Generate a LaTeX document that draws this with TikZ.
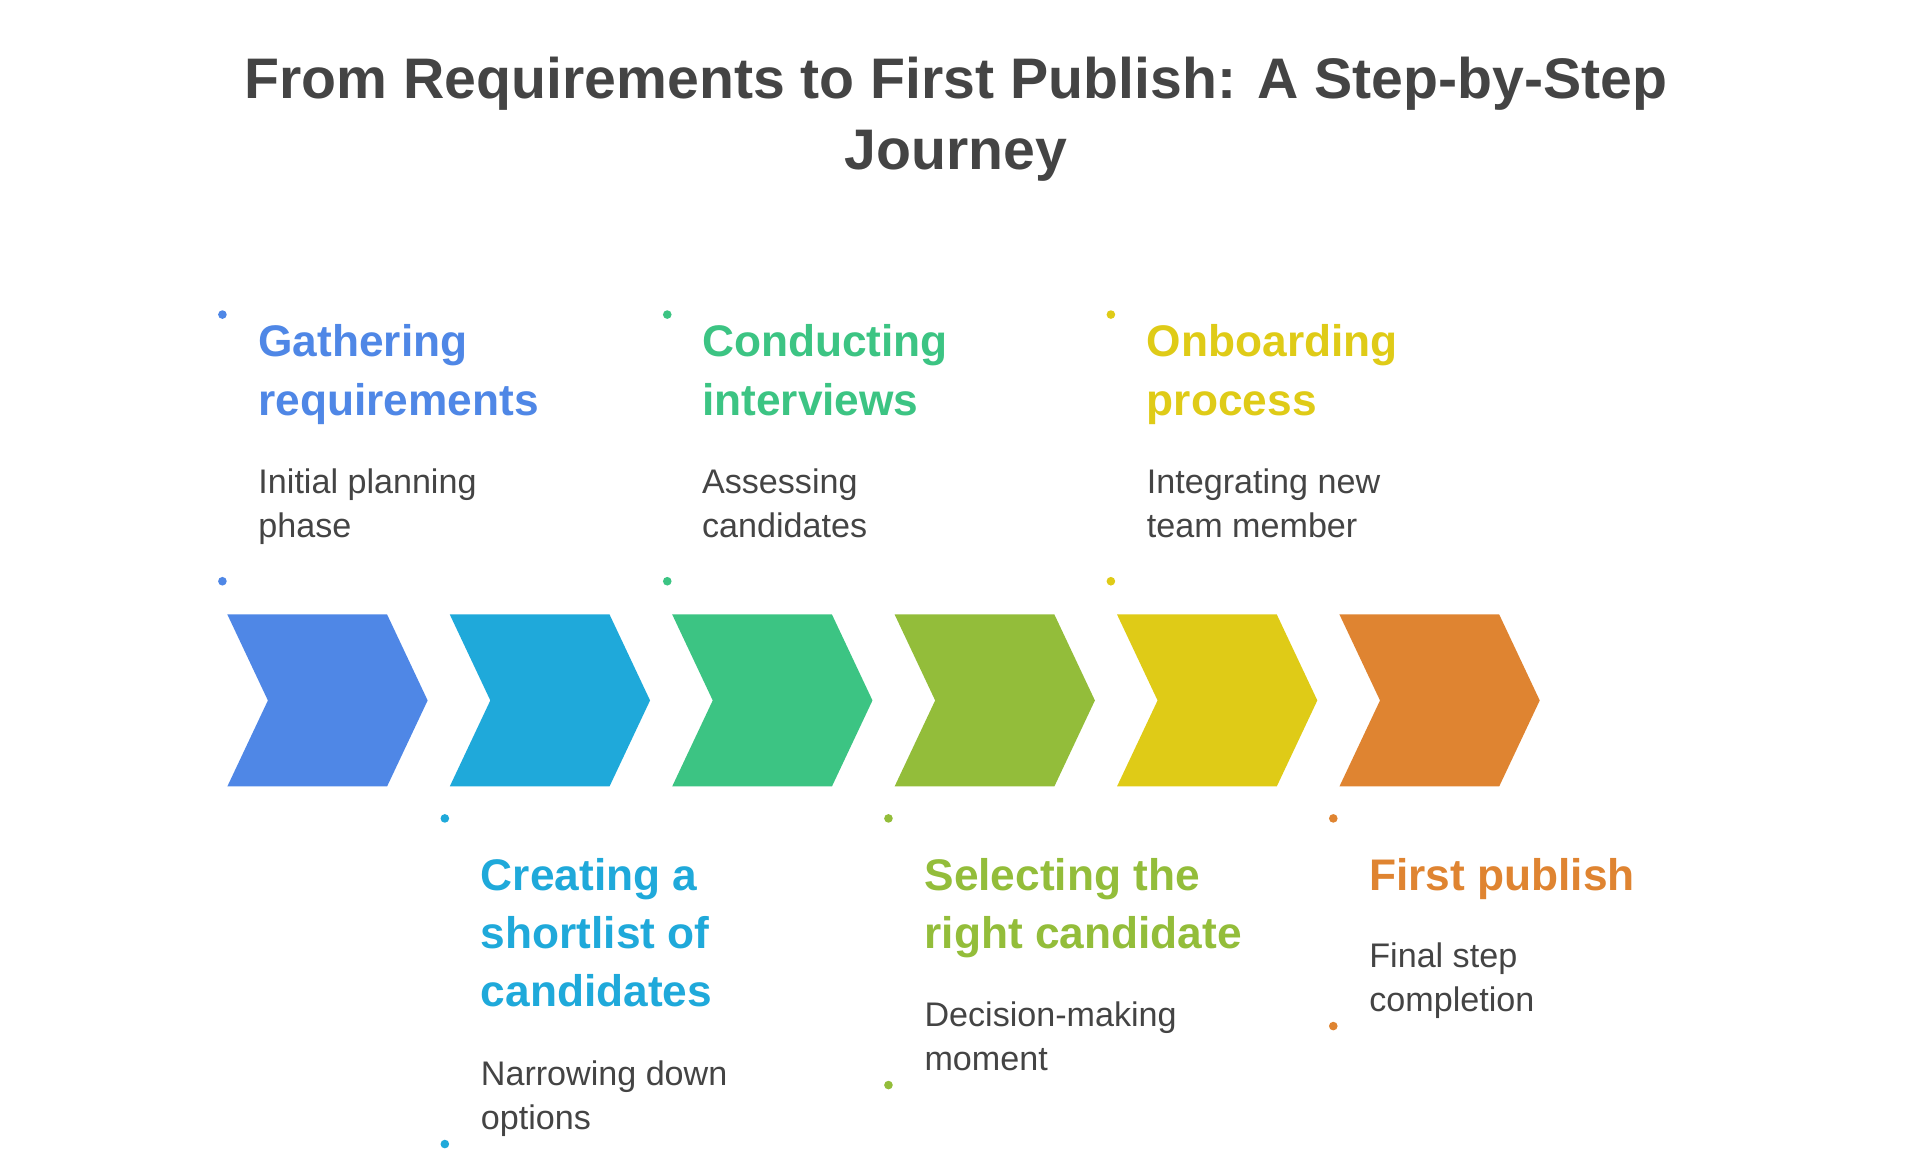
\documentclass[tikz,border=0pt]{standalone}
\usepackage{fontspec}
\setmainfont{Liberation Sans}
\usepackage{tikz}
\usetikzlibrary{calc}
\definecolor{cA}{HTML}{4F87E6}
\definecolor{cB}{HTML}{1FA9DA}
\definecolor{cC}{HTML}{3CC483}
\definecolor{cD}{HTML}{93BD3A}
\definecolor{cE}{HTML}{DFCB17}
\definecolor{cF}{HTML}{DF8431}
\definecolor{ink}{HTML}{444444}
\tikzset{
  headtext/.style={anchor=north west, inner sep=0pt, align=left, font=\fontsize{20.5}{27}\selectfont\bfseries},
  desctext/.style={anchor=north west, inner sep=0pt, align=left, text=ink, font=\fontsize{15.8}{20.5}\selectfont},
  dotmark/.style={circle, inner sep=0pt, minimum size=4pt}
}
\begin{document}
\begin{tikzpicture}[x=0.02cm,y=-0.02cm]
                \useasboundingbox (0,0) rectangle (1560,945);
                \node[anchor=north, inner sep=0pt, align=center, text=ink, font=\fontsize{26.5}{33}\selectfont\bfseries] (title) at (778,46) {From Requirements to First Publish: A Step-by-Step\\Journey};

                % chevrons
                \foreach \c [count=\i from 0] in {cA,cB,cC,cD,cE,cF} {
                    \fill[\c] (185+181*\i,500) -- ++(130,0) -- ++(33,70) -- ++(-33,70)
                        -- ++(-130,0) -- ++(33,-70) -- cycle;
                }

                % upper steps
                \node[dotmark, fill=cA] (dA1) at (181,256) {};
                \node[dotmark, fill=cA] (dA2) at (181,473) {};
                \node[headtext, text=cA] (hA) at (210,264) {Gathering\\requirements};
                \node[desctext] (tA) at (210,381) {Initial planning\\phase};

                \node[dotmark, fill=cC] (dC1) at (543,256) {};
                \node[dotmark, fill=cC] (dC2) at (543,473) {};
                \node[headtext, text=cC] (hC) at (571,264) {Conducting\\interviews};
                \node[desctext] (tC) at (571,381) {Assessing\\candidates};

                \node[dotmark, fill=cE] (dE1) at (904,256) {};
                \node[dotmark, fill=cE] (dE2) at (904,473) {};
                \node[headtext, text=cE] (hE) at (933,264) {Onboarding\\process};
                \node[desctext] (tE) at (933,381) {Integrating new\\team member};

                % lower steps
                \node[dotmark, fill=cB] (dB1) at (362,666) {};
                \node[dotmark, fill=cB] (dB2) at (362,931) {};
                \node[headtext, text=cB] (hB) at (391,698) {Creating a\\shortlist of\\candidates};
                \node[desctext] (tB) at (391,863) {Narrowing down\\options};

                \node[dotmark, fill=cD] (dD1) at (723,666) {};
                \node[dotmark, fill=cD] (dD2) at (723,883) {};
                \node[headtext, text=cD] (hD) at (752,698) {Selecting the\\right candidate};
                \node[desctext] (tD) at (752,815) {Decision-making\\moment};

                \node[dotmark, fill=cF] (dF1) at (1085,666) {};
                \node[dotmark, fill=cF] (dF2) at (1085,835) {};
                \node[headtext, text=cF] (hF) at (1114,698) {First publish};
                \node[desctext] (tF) at (1114,767) {Final step\\completion};
\end{tikzpicture}
\end{document}
